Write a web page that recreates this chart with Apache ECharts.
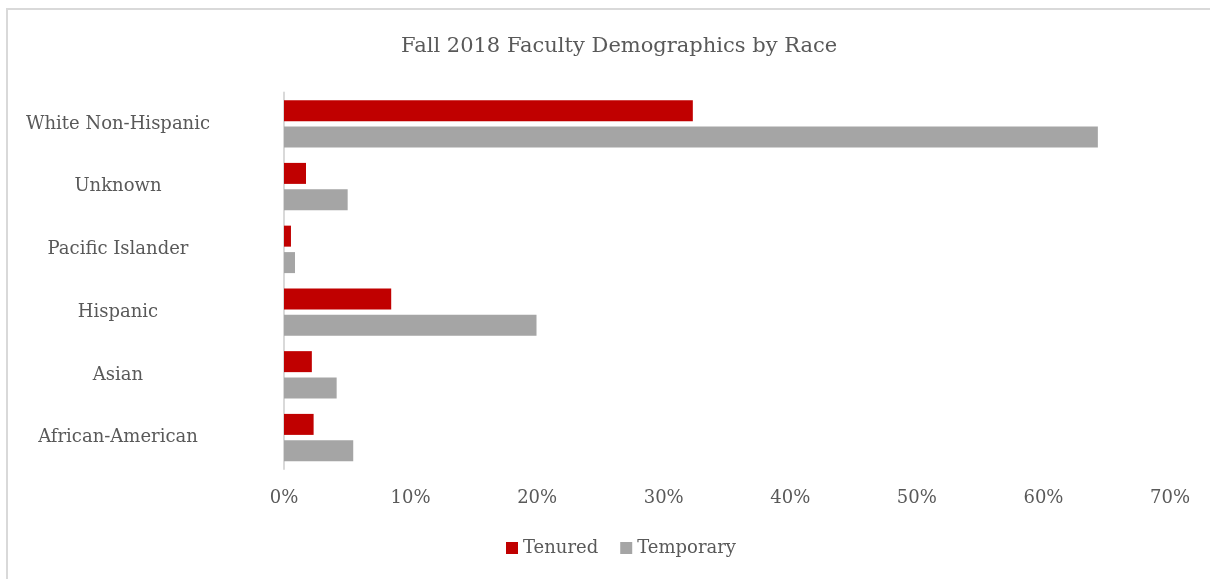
<!DOCTYPE html>
<html>
<head>
<meta charset="utf-8">
<script src="https://cdn.jsdelivr.net/npm/echarts@6/dist/echarts.min.js"></script>
<style>
    html, body { margin: 0; padding: 0; background: #fff; }
    #main { width: 1210px; height: 579px; }
</style>
</head>
<body>
<div id="main"></div>
<script>
// categories bottom -> top, as the value axis of a horizontal chart runs
var races = ['African-American', 'Asian', 'Hispanic', 'Pacific Islander', 'Unknown', 'White Non-Hispanic'];
var tenured = [2.34, 2.2, 8.47, 0.55, 1.74, 32.3];
var temporary = [5.47, 4.16, 19.95, 0.87, 5.03, 64.3];
var seriesNames = ['Tenured', 'Temporary'];

var font = 'DejaVu Serif';
var textColor = '#595959';

var myChart = echarts.init(document.getElementById('main'));
myChart.setOption({
    animation: false,
    textStyle: { fontFamily: font, color: textColor },
    // chart-area frame, only the left and top edges are inside the picture
    graphic: [{
        type: 'polyline',
        shape: { points: [[7, 700], [7, 9], [1300, 9]] },
        style: { fill: null, stroke: '#d9d9d9', lineWidth: 2 },
        silent: true
    }],
    title: {
        text: 'Fall 2018 Faculty Demographics by Race',
        left: 396,
        top: 31,
        textStyle: { fontFamily: font, fontSize: 21, fontWeight: 'normal', color: textColor }
    },
    legend: {
        data: seriesNames,
        bottom: 17,
        left: 501,
        icon: 'rect',
        itemWidth: 12,
        itemHeight: 12,
        itemGap: 22,
        textStyle: { fontFamily: font, fontSize: 18, color: textColor }
    },
    grid: {
        left: 284,
        right: 40,
        top: 92.5,
        bottom: 110,
        containLabel: false
    },
    xAxis: {
        type: 'value',
        min: 0,
        max: 70,
        interval: 10,
        axisLine: { show: false },
        axisTick: { show: false },
        splitLine: { show: false },
        axisLabel: {
            formatter: '{value}%',
            margin: 20,
            fontFamily: font,
            fontSize: 18,
            color: textColor
        }
    },
    yAxis: {
        type: 'category',
        data: races,
        axisLine: { show: true, lineStyle: { color: '#d9d9d9', width: 2 } },
        axisTick: { show: false },
        axisLabel: {
            align: 'center',
            margin: 166,
            fontFamily: font,
            fontSize: 18,
            color: textColor
        }
    },
    series: [
        {
            name: 'Tenured',
            type: 'bar',
            data: tenured,
            barWidth: 21,
            barGap: '26%',
            itemStyle: { color: '#c00000' }
        },
        {
            name: 'Temporary',
            type: 'bar',
            data: temporary,
            barWidth: 21,
            barGap: '26%',
            itemStyle: { color: '#a5a5a5' }
        }
    ]
});
</script>
</body>
</html>
